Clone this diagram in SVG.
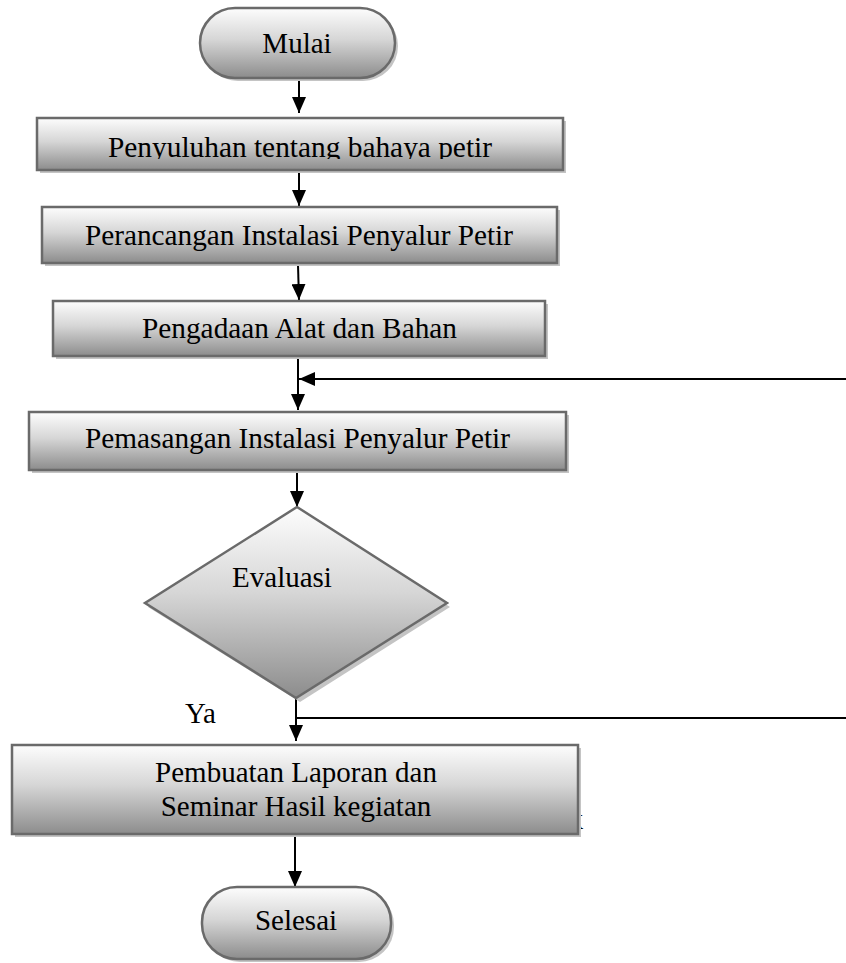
<svg xmlns="http://www.w3.org/2000/svg" width="846" height="963" viewBox="0 0 846 963">
<defs>
<linearGradient id="g" x1="0" y1="0" x2="0" y2="1">
<stop offset="0" stop-color="#fdfdfd"/>
<stop offset="0.45" stop-color="#d6d6d6"/>
<stop offset="1" stop-color="#8c8c8c"/>
</linearGradient>
<marker id="ah" markerUnits="userSpaceOnUse" markerWidth="16" markerHeight="14" viewBox="0 0 16 14" refX="16" refY="7" orient="auto">
<path d="M0,0 L16,7 L0,14 z" fill="#000"/>
</marker>
<clipPath id="clip1"><rect x="37" y="118" width="526" height="41"/></clipPath>
</defs>
<style>
.shape{fill:url(#g);stroke:#6a6a6a;stroke-width:2.5}
.shadow{fill:#c4c4c4}
.t{font-family:"Liberation Serif","Times New Roman",serif;font-size:29px;fill:#000}
.c{text-anchor:middle}
.ln{stroke:#000;stroke-width:2;fill:none}
.arr{stroke:#000;stroke-width:2;fill:none;marker-end:url(#ah)}
</style>
<rect width="846" height="963" fill="#fff"/>

<text class="t" x="583" y="829" text-anchor="end">k</text>

<g id="connectors">
<line class="arr" x1="299" y1="79" x2="299" y2="113"/>
<line class="arr" x1="299" y1="172" x2="299" y2="206"/>
<line class="arr" x1="298" y1="265" x2="299" y2="300"/>
<line class="arr" x1="298" y1="357" x2="298" y2="410"/>
<line class="arr" x1="846" y1="379" x2="299" y2="379"/>
<line class="arr" x1="297" y1="472" x2="297" y2="507"/>
<line class="arr" x1="296" y1="698" x2="296" y2="741"/>
<line class="ln" x1="296" y1="718" x2="846" y2="718"/>
<line class="arr" x1="295" y1="836" x2="295" y2="887"/>
</g>

<g id="mulai">
<rect class="shadow" x="203" y="11" width="195" height="70" rx="35" ry="35"/>
<rect class="shape" x="200" y="8" width="195" height="70" rx="35" ry="35"/>
<text class="t c" x="297" y="53">Mulai</text>
</g>

<g id="penyuluhan">
<rect class="shadow" x="40" y="121" width="526" height="52"/>
<rect class="shape" x="37" y="118" width="526" height="52"/>
<text class="t c" x="300" y="157" font-size="28" textLength="384" lengthAdjust="spacingAndGlyphs" clip-path="url(#clip1)">Penyuluhan tentang bahaya petir</text>
</g>

<g id="perancangan">
<rect class="shadow" x="45" y="210" width="515" height="56"/>
<rect class="shape" x="42" y="207" width="515" height="56"/>
<text class="t c" x="299" y="245" textLength="428" lengthAdjust="spacingAndGlyphs">Perancangan Instalasi Penyalur Petir</text>
</g>

<g id="pengadaan">
<rect class="shadow" x="56" y="304" width="492" height="55"/>
<rect class="shape" x="53" y="301" width="492" height="55"/>
<text class="t c" x="299.5" y="338" textLength="315" lengthAdjust="spacingAndGlyphs">Pengadaan Alat dan Bahan</text>
</g>

<g id="pemasangan">
<rect class="shadow" x="32" y="415" width="537" height="58"/>
<rect class="shape" x="29" y="412" width="537" height="58"/>
<text class="t c" x="297.5" y="448" textLength="425" lengthAdjust="spacingAndGlyphs">Pemasangan Instalasi Penyalur Petir</text>
</g>

<g id="evaluasi">
<polygon class="shadow" points="300,511 450,607 300,702 148,607"/>
<polygon class="shape" points="297,507 447,603 296,698 145,603"/>
<text class="t c" x="282" y="587">Evaluasi</text>
</g>

<text id="label-ya" class="t" x="185" y="723">Ya</text>

<g id="laporan">
<rect class="shadow" x="15" y="748" width="566" height="89"/>
<rect class="shape" x="12" y="745" width="566" height="89"/>
<text class="t c" x="296" y="782">Pembuatan Laporan dan</text>
<text class="t c" x="296" y="816">Seminar Hasil kegiatan</text>
</g>

<g id="selesai">
<rect class="shadow" x="205" y="890" width="189" height="72" rx="35" ry="35"/>
<rect class="shape" x="202" y="887" width="189" height="72" rx="35" ry="35"/>
<text class="t c" x="296" y="930">Selesai</text>
</g>
</svg>
